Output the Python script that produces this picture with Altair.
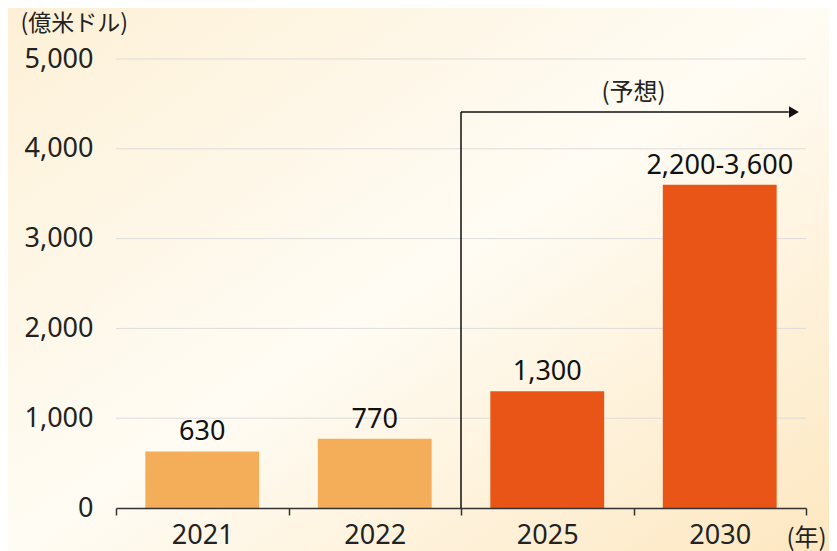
import altair as alt
import pandas as pd

years = ["2021", "2022", "2025", "2030"]
values = [630, 770, 1300, 3600]
value_labels = ["630", "770", "1,300", "2,200-3,600"]
bar_colors = ["#f4ae5a", "#f4ae5a", "#e85516", "#e85516"]
y_ticks = [0, 1000, 2000, 3000, 4000, 5000]

forecast_start = "2025"
forecast_end = "2030"
forecast_level = 4410
forecast_label = "(予想)"
forecast_label_level = 4620

FONT = "Noto Sans CJK JP"
NUM_FONT = "Noto Sans"

df = pd.DataFrame({"year": years, "value": values, "label": value_labels, "color": bar_colors})

W, H = 690, 449
PAD = {"left": 108, "top": 51, "right": 23, "bottom": 43}

xscale = alt.Scale(domain=years, paddingInner=0, paddingOuter=0)
yscale = alt.Scale(domain=[0, 5000], nice=False)

y_axis = alt.Axis(
    title="(億米ドル)", values=y_ticks, format=",d", labelFontSize=27,
    labelFont=NUM_FONT, labelColor="#222", labelPadding=23, ticks=False,
    domain=False, grid=False,
    titleAngle=0, titleX=-96, titleY=-36, titleAlign="left",
    titleBaseline="middle", titleFontSize=23, titleFontWeight="normal",
    titleFont=FONT, titleColor="#222", zindex=1)

x_axis = alt.Axis(
    title="(年)", labelAngle=0, tickBand="extent", labelFontSize=27,
    labelFont=NUM_FONT, labelColor="#222", labelPadding=7, tickSize=7,
    tickColor="#333", domainColor="#333", domainWidth=1.5, tickWidth=1.5,
    grid=False, titleX=690, titleY=30, titleAlign="center",
    titleBaseline="middle", titleFontSize=24, titleFontWeight="normal",
    titleFont=FONT, titleColor="#222", zindex=1)

bg = alt.Chart(pd.DataFrame({"a": [0]})).mark_rect(
    fill={
        "gradient": "linear",
        "x1": 0, "y1": 0, "x2": 1, "y2": 1,
        "stops": [
            {"offset": 0, "color": "#fdf0d6"},
            {"offset": 0.5, "color": "#fffcf4"},
            {"offset": 1, "color": "#fde7c0"},
        ],
    }
).encode(
    x=alt.value(-PAD["left"]), x2=alt.value(W + PAD["right"]),
    y=alt.value(-PAD["top"]), y2=alt.value(H + PAD["bottom"]),
)

grid_df = pd.DataFrame({"value": y_ticks[1:]})
grid = alt.Chart(grid_df).mark_rule(color="#dcdcdc", strokeWidth=1).encode(
    y=alt.Y("value:Q", scale=yscale, axis=y_axis),
)

base = alt.Chart(df)

bars = base.mark_bar(width={"band": 0.66}).encode(
    x=alt.X("year:N", scale=xscale, axis=x_axis),
    y=alt.Y("value:Q", scale=yscale, axis=y_axis),
    color=alt.Color("color:N", scale=None),
)

texts = base.mark_text(baseline="bottom", dy=-5, fontSize=27, font=NUM_FONT, color="#111").encode(
    x=alt.X("year:N", scale=xscale, axis=x_axis),
    y=alt.Y("value:Q", scale=yscale, axis=y_axis),
    text="label:N",
)

arrow_df = pd.DataFrame({"year": [forecast_start], "end": [forecast_end], "lvl": [forecast_level], "zero": [0]})
arrow = alt.Chart(arrow_df)

vline = arrow.mark_rule(color="#111", strokeWidth=1.5).encode(
    x=alt.X("year:N", scale=xscale, bandPosition=0, axis=x_axis),
    y=alt.Y("lvl:Q", scale=yscale, axis=y_axis),
    y2="zero:Q",
)
hline = arrow.mark_rule(color="#111", strokeWidth=1.5).encode(
    x=alt.X("year:N", scale=xscale, bandPosition=0, axis=x_axis),
    x2=alt.X2("end:N", bandPosition=0.9),
    y=alt.Y("lvl:Q", scale=yscale, axis=y_axis),
)
head = arrow.mark_point(shape="triangle-right", filled=True, size=130, color="#111", opacity=1).encode(
    x=alt.X("end:N", scale=xscale, bandPosition=0.93, axis=x_axis),
    y=alt.Y("lvl:Q", scale=yscale, axis=y_axis),
)

lab_df = pd.DataFrame({"year": [forecast_end], "lvl": [forecast_label_level], "t": [forecast_label]})
flabel = alt.Chart(lab_df).mark_text(fontSize=24, font=FONT, color="#222", baseline="middle").encode(
    x=alt.X("year:N", scale=xscale, bandPosition=0, axis=x_axis),
    y=alt.Y("lvl:Q", scale=yscale, axis=y_axis),
    text="t:N",
)

chart = alt.layer(bg, grid, bars, texts, vline, hline, head, flabel).properties(
    width=W, height=H, padding=PAD, autosize=alt.AutoSizeParams(type="none"),
    background="#fffaf0",
).configure_view(strokeWidth=0)

chart.save("out.html", embed_options={"renderer": "svg", "actions": False})
